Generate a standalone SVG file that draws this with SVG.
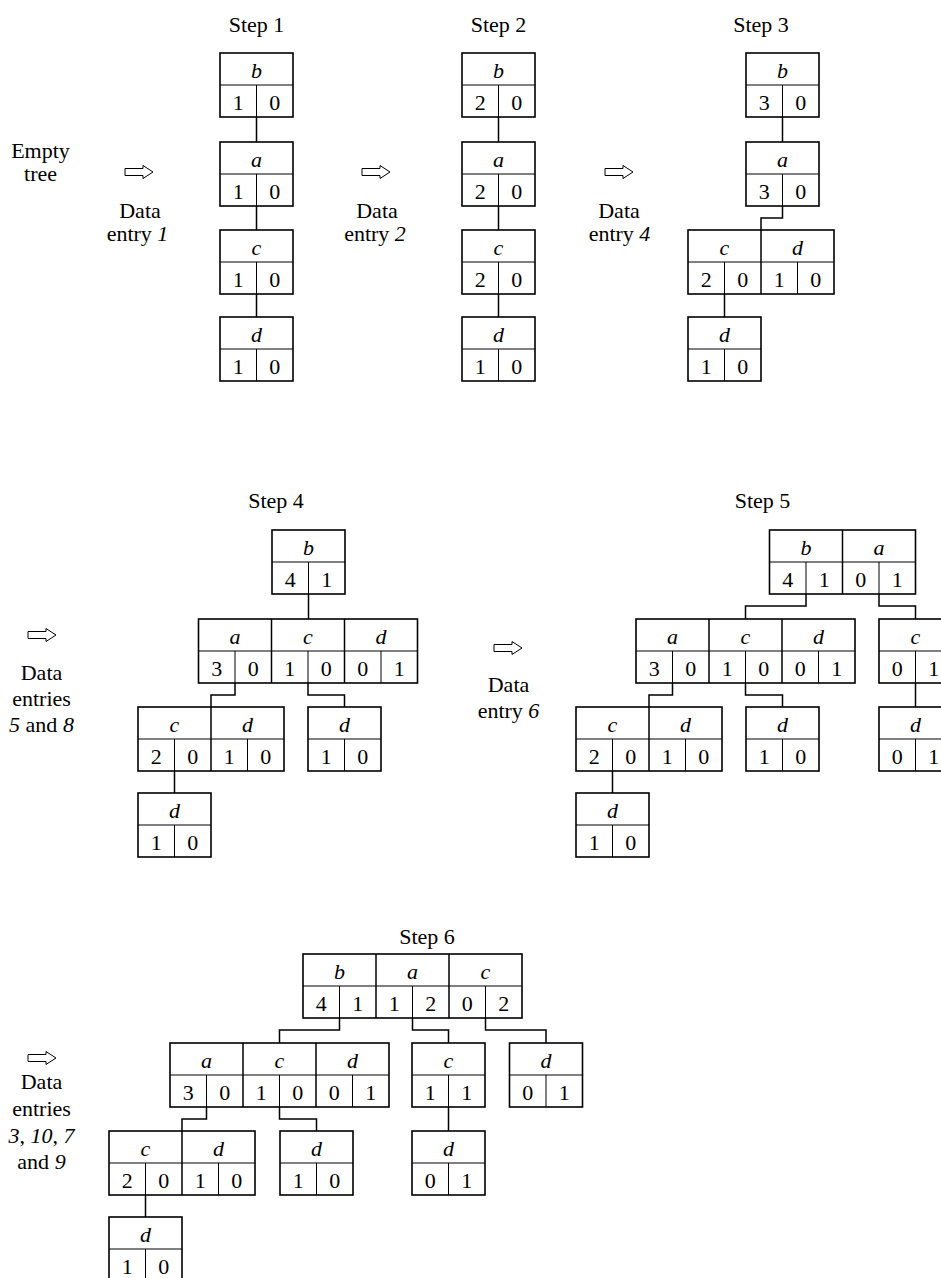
<svg xmlns="http://www.w3.org/2000/svg" xmlns:xlink="http://www.w3.org/1999/xlink" width="941" height="1278" viewBox="0 0 941 1278">
<style>
.o{fill:none;stroke:#000;stroke-width:1.6}
.i{stroke:#000;stroke-width:1}
.s{stroke:#000;stroke-width:1.5}
.k{font-family:"Liberation Serif",serif;font-style:italic;font-size:22px;text-anchor:middle}
.n{font-family:"Liberation Serif",serif;font-size:22px;text-anchor:middle}
.t{font-family:"Liberation Serif",serif;font-size:22px;text-anchor:middle}
.it{font-style:italic}
.cn{fill:none;stroke:#000;stroke-width:1.5}
.ar{fill:#fff;stroke:#000;stroke-width:1}
</style>
<defs>
<g id="k1"><rect class="o" x="0" y="0" width="73" height="64"/><line class="i" x1="0" y1="32" x2="73" y2="32"/><line class="i" x1="36.5" y1="32" x2="36.5" y2="64"/></g>
<g id="k2"><rect class="o" x="0" y="0" width="146" height="64"/><line class="i" x1="0" y1="32" x2="146" y2="32"/><line class="i" x1="36.5" y1="32" x2="36.5" y2="64"/><line class="i" x1="109.5" y1="32" x2="109.5" y2="64"/><line class="s" x1="73" y1="0" x2="73" y2="64"/></g>
<g id="k3"><rect class="o" x="0" y="0" width="219" height="64"/><line class="i" x1="0" y1="32" x2="219" y2="32"/><line class="i" x1="36.5" y1="32" x2="36.5" y2="64"/><line class="i" x1="109.5" y1="32" x2="109.5" y2="64"/><line class="i" x1="182.5" y1="32" x2="182.5" y2="64"/><line class="s" x1="73" y1="0" x2="73" y2="64"/><line class="s" x1="146" y1="0" x2="146" y2="64"/></g>
<path id="arr" class="ar" d="M0,-3.5 H18 V-6.5 L28,0 L18,6.5 V3.5 H0 Z"/>
</defs>

<g id="labels">
<text class="t" x="256.5" y="32">Step 1</text>
<text class="t" x="498.5" y="32">Step 2</text>
<text class="t" x="761" y="32">Step 3</text>
<text class="t" x="276" y="508">Step 4</text>
<text class="t" x="762.5" y="508">Step 5</text>
<text class="t" x="427" y="944">Step 6</text>
<text class="t" x="40.5" y="158">Empty</text>
<text class="t" x="40.5" y="181">tree</text>
<use href="#arr" x="125" y="172"/>
<text class="t" x="140" y="218">Data</text>
<text class="t" x="137.5" y="241">entry <tspan class="it">1</tspan></text>
<use href="#arr" x="362" y="172"/>
<text class="t" x="377" y="218">Data</text>
<text class="t" x="375" y="241">entry <tspan class="it">2</tspan></text>
<use href="#arr" x="605" y="172"/>
<text class="t" x="619" y="218">Data</text>
<text class="t" x="619.5" y="241">entry <tspan class="it">4</tspan></text>
<use href="#arr" x="28" y="635"/>
<text class="t" x="41.5" y="680">Data</text>
<text class="t" x="41.5" y="706">entries</text>
<text class="t" x="41.5" y="732"><tspan class="it">5</tspan> and <tspan class="it">8</tspan></text>
<use href="#arr" x="494" y="648"/>
<text class="t" x="508.5" y="692">Data</text>
<text class="t" x="508.5" y="718">entry <tspan class="it">6</tspan></text>
<use href="#arr" x="28" y="1058"/>
<text class="t" x="41.5" y="1089">Data</text>
<text class="t" x="41.5" y="1116">entries</text>
<text class="t" x="41.5" y="1143"><tspan class="it">3</tspan>, <tspan class="it">10</tspan>, <tspan class="it">7</tspan></text>
<text class="t" x="41.5" y="1169">and <tspan class="it">9</tspan></text>
</g>

<g id="connectors">
<path class="cn" d="M256.5,117 V142 M256.5,206 V230 M256.5,294 V317"/>
<path class="cn" d="M498.5,117 V142 M498.5,206 V230 M498.5,294 V317"/>
<path class="cn" d="M782.5,117 V142 M782.5,206 V218 H761 V230 M724.5,294 V317"/>
<path class="cn" d="M308.5,594 V619 M235,683 V695 H211 V707 M308,683 V695 H344.5 V707 M174.5,771 V793"/>
<path class="cn" d="M806,594 V606 H745.5 V619 M879,594 V606 H915.5 V619 M672.5,683 V695 H649 V707 M745.5,683 V695 H782.5 V707 M915.5,683 V707 M612.5,771 V793"/>
<path class="cn" d="M339.5,1018 V1030 H279.5 V1043 M412.5,1018 V1030 H448.5 V1043 M485.5,1018 V1030 H546 V1043 M206.5,1107 V1119 H182 V1131 M279.5,1107 V1119 H316.5 V1131 M448.5,1107 V1131 M145.5,1195 V1217"/>
</g>

<!-- Step 1 -->
<g id="s1_b" transform="translate(220,53)"><use href="#k1"/><text class="k" x="36.5" y="25">b</text><text class="n" x="18.25" y="57">1</text><text class="n" x="54.75" y="57">0</text></g>
<g id="s1_a" transform="translate(220,142)"><use href="#k1"/><text class="k" x="36.5" y="25">a</text><text class="n" x="18.25" y="57">1</text><text class="n" x="54.75" y="57">0</text></g>
<g id="s1_c" transform="translate(220,230)"><use href="#k1"/><text class="k" x="36.5" y="25">c</text><text class="n" x="18.25" y="57">1</text><text class="n" x="54.75" y="57">0</text></g>
<g id="s1_d" transform="translate(220,317)"><use href="#k1"/><text class="k" x="36.5" y="25">d</text><text class="n" x="18.25" y="57">1</text><text class="n" x="54.75" y="57">0</text></g>

<!-- Step 2 -->
<g id="s2_b" transform="translate(462,53)"><use href="#k1"/><text class="k" x="36.5" y="25">b</text><text class="n" x="18.25" y="57">2</text><text class="n" x="54.75" y="57">0</text></g>
<g id="s2_a" transform="translate(462,142)"><use href="#k1"/><text class="k" x="36.5" y="25">a</text><text class="n" x="18.25" y="57">2</text><text class="n" x="54.75" y="57">0</text></g>
<g id="s2_c" transform="translate(462,230)"><use href="#k1"/><text class="k" x="36.5" y="25">c</text><text class="n" x="18.25" y="57">2</text><text class="n" x="54.75" y="57">0</text></g>
<g id="s2_d" transform="translate(462,317)"><use href="#k1"/><text class="k" x="36.5" y="25">d</text><text class="n" x="18.25" y="57">1</text><text class="n" x="54.75" y="57">0</text></g>

<!-- Step 3 -->
<g id="s3_b" transform="translate(746,53)"><use href="#k1"/><text class="k" x="36.5" y="25">b</text><text class="n" x="18.25" y="57">3</text><text class="n" x="54.75" y="57">0</text></g>
<g id="s3_a" transform="translate(746,142)"><use href="#k1"/><text class="k" x="36.5" y="25">a</text><text class="n" x="18.25" y="57">3</text><text class="n" x="54.75" y="57">0</text></g>
<g id="s3_cd" transform="translate(688,230)"><use href="#k2"/><text class="k" x="36.5" y="25">c</text><text class="k" x="109.5" y="25">d</text><text class="n" x="18.25" y="57">2</text><text class="n" x="54.75" y="57">0</text><text class="n" x="91.25" y="57">1</text><text class="n" x="127.75" y="57">0</text></g>
<g id="s3_d" transform="translate(688,317)"><use href="#k1"/><text class="k" x="36.5" y="25">d</text><text class="n" x="18.25" y="57">1</text><text class="n" x="54.75" y="57">0</text></g>

<!-- Step 4 -->
<g id="s4_b" transform="translate(272,530)"><use href="#k1"/><text class="k" x="36.5" y="25">b</text><text class="n" x="18.25" y="57">4</text><text class="n" x="54.75" y="57">1</text></g>
<g id="s4_acd" transform="translate(198.5,619)"><use href="#k3"/><text class="k" x="36.5" y="25">a</text><text class="k" x="109.5" y="25">c</text><text class="k" x="182.5" y="25">d</text><text class="n" x="18.25" y="57">3</text><text class="n" x="54.75" y="57">0</text><text class="n" x="91.25" y="57">1</text><text class="n" x="127.75" y="57">0</text><text class="n" x="164.25" y="57">0</text><text class="n" x="200.75" y="57">1</text></g>
<g id="s4_cd" transform="translate(138,707)"><use href="#k2"/><text class="k" x="36.5" y="25">c</text><text class="k" x="109.5" y="25">d</text><text class="n" x="18.25" y="57">2</text><text class="n" x="54.75" y="57">0</text><text class="n" x="91.25" y="57">1</text><text class="n" x="127.75" y="57">0</text></g>
<g id="s4_d1" transform="translate(308,707)"><use href="#k1"/><text class="k" x="36.5" y="25">d</text><text class="n" x="18.25" y="57">1</text><text class="n" x="54.75" y="57">0</text></g>
<g id="s4_d2" transform="translate(138,793)"><use href="#k1"/><text class="k" x="36.5" y="25">d</text><text class="n" x="18.25" y="57">1</text><text class="n" x="54.75" y="57">0</text></g>

<!-- Step 5 -->
<g id="s5_ba" transform="translate(769.5,530)"><use href="#k2"/><text class="k" x="36.5" y="25">b</text><text class="k" x="109.5" y="25">a</text><text class="n" x="18.25" y="57">4</text><text class="n" x="54.75" y="57">1</text><text class="n" x="91.25" y="57">0</text><text class="n" x="127.75" y="57">1</text></g>
<g id="s5_acd" transform="translate(636,619)"><use href="#k3"/><text class="k" x="36.5" y="25">a</text><text class="k" x="109.5" y="25">c</text><text class="k" x="182.5" y="25">d</text><text class="n" x="18.25" y="57">3</text><text class="n" x="54.75" y="57">0</text><text class="n" x="91.25" y="57">1</text><text class="n" x="127.75" y="57">0</text><text class="n" x="164.25" y="57">0</text><text class="n" x="200.75" y="57">1</text></g>
<g id="s5_c" transform="translate(879,619)"><use href="#k1"/><text class="k" x="36.5" y="25">c</text><text class="n" x="18.25" y="57">0</text><text class="n" x="54.75" y="57">1</text></g>
<g id="s5_cd" transform="translate(576,707)"><use href="#k2"/><text class="k" x="36.5" y="25">c</text><text class="k" x="109.5" y="25">d</text><text class="n" x="18.25" y="57">2</text><text class="n" x="54.75" y="57">0</text><text class="n" x="91.25" y="57">1</text><text class="n" x="127.75" y="57">0</text></g>
<g id="s5_d1" transform="translate(746,707)"><use href="#k1"/><text class="k" x="36.5" y="25">d</text><text class="n" x="18.25" y="57">1</text><text class="n" x="54.75" y="57">0</text></g>
<g id="s5_d3" transform="translate(879,707)"><use href="#k1"/><text class="k" x="36.5" y="25">d</text><text class="n" x="18.25" y="57">0</text><text class="n" x="54.75" y="57">1</text></g>
<g id="s5_d2" transform="translate(576,793)"><use href="#k1"/><text class="k" x="36.5" y="25">d</text><text class="n" x="18.25" y="57">1</text><text class="n" x="54.75" y="57">0</text></g>

<!-- Step 6 -->
<g id="s6_bac" transform="translate(303,954)"><use href="#k3"/><text class="k" x="36.5" y="25">b</text><text class="k" x="109.5" y="25">a</text><text class="k" x="182.5" y="25">c</text><text class="n" x="18.25" y="57">4</text><text class="n" x="54.75" y="57">1</text><text class="n" x="91.25" y="57">1</text><text class="n" x="127.75" y="57">2</text><text class="n" x="164.25" y="57">0</text><text class="n" x="200.75" y="57">2</text></g>
<g id="s6_acd" transform="translate(170,1043)"><use href="#k3"/><text class="k" x="36.5" y="25">a</text><text class="k" x="109.5" y="25">c</text><text class="k" x="182.5" y="25">d</text><text class="n" x="18.25" y="57">3</text><text class="n" x="54.75" y="57">0</text><text class="n" x="91.25" y="57">1</text><text class="n" x="127.75" y="57">0</text><text class="n" x="164.25" y="57">0</text><text class="n" x="200.75" y="57">1</text></g>
<g id="s6_c" transform="translate(412,1043)"><use href="#k1"/><text class="k" x="36.5" y="25">c</text><text class="n" x="18.25" y="57">1</text><text class="n" x="54.75" y="57">1</text></g>
<g id="s6_d" transform="translate(509.5,1043)"><use href="#k1"/><text class="k" x="36.5" y="25">d</text><text class="n" x="18.25" y="57">0</text><text class="n" x="54.75" y="57">1</text></g>
<g id="s6_cd" transform="translate(109,1131)"><use href="#k2"/><text class="k" x="36.5" y="25">c</text><text class="k" x="109.5" y="25">d</text><text class="n" x="18.25" y="57">2</text><text class="n" x="54.75" y="57">0</text><text class="n" x="91.25" y="57">1</text><text class="n" x="127.75" y="57">0</text></g>
<g id="s6_d1" transform="translate(280,1131)"><use href="#k1"/><text class="k" x="36.5" y="25">d</text><text class="n" x="18.25" y="57">1</text><text class="n" x="54.75" y="57">0</text></g>
<g id="s6_d3" transform="translate(412,1131)"><use href="#k1"/><text class="k" x="36.5" y="25">d</text><text class="n" x="18.25" y="57">0</text><text class="n" x="54.75" y="57">1</text></g>
<g id="s6_d2" transform="translate(109,1217)"><use href="#k1"/><text class="k" x="36.5" y="25">d</text><text class="n" x="18.25" y="57">1</text><text class="n" x="54.75" y="57">0</text></g>
</svg>
